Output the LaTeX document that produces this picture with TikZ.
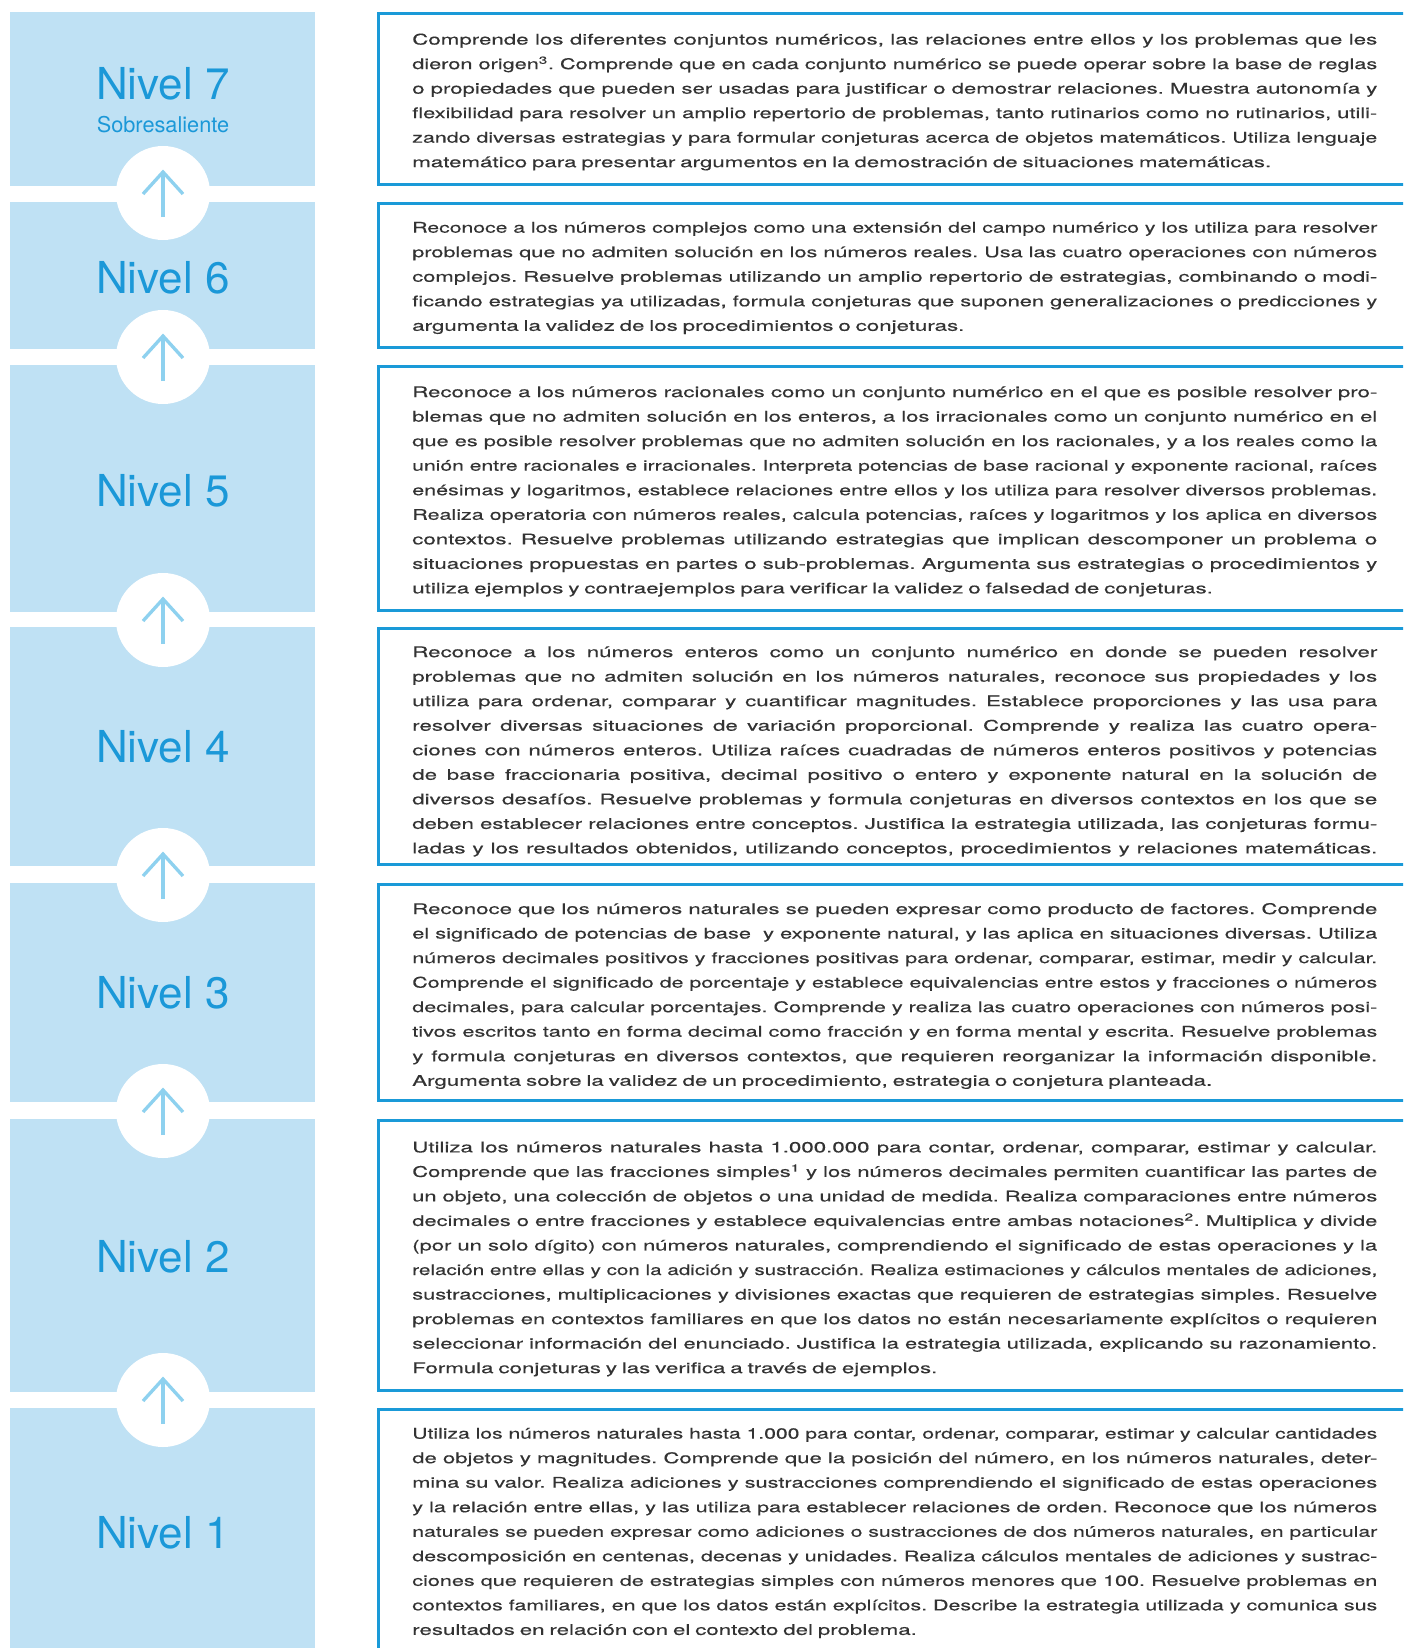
\documentclass[tikz,border=0pt]{standalone}
\usepackage{fontspec}
\usepackage{graphicx}
\usepackage{xcolor}
\setmainfont{TeX Gyre Heros}
\newfontfamily\bodyfont[FakeStretch=1.52,FakeBold=0.4]{TeX Gyre Heros}

\definecolor{lvlfill}{HTML}{BFE1F4}
\definecolor{lvlblue}{HTML}{1B98D8}
\definecolor{boxblue}{HTML}{1A9AD8}
\definecolor{arrblue}{HTML}{8ED1EF}
\definecolor{bodytxt}{HTML}{333333}

\newlength\txtw \setlength\txtw{723.75pt}
\newlength\lnw
% justified line: spread the spaces, or squeeze if too long
\newcommand\jl[1]{{\frenchspacing\spaceskip=\fontdimen2\font plus 1fil\relax
  \settowidth\lnw{#1}\ifdim\lnw>\txtw\resizebox{\txtw}{\height}{#1}\else\makebox[\txtw][s]{#1}\fi}}

\begin{document}
\begin{tikzpicture}[x=0.75pt,y=0.75pt,yscale=-1,xscale=1,
  lvlbox/.style={fill=lvlfill,draw=none},
  descbox/.style={draw=boxblue,line width=2.25pt},
  upcirc/.style={circle,fill=white,draw=none,minimum size=70.5pt,inner sep=0pt},
  uparr/.style={draw=arrblue,line width=2.5pt},
  lvltxt/.style={text=lvlblue,font=\fontsize{33}{36}\selectfont},
  desctxt/.style={text=bodytxt,text width=\txtw,align=left,font=\bodyfont\frenchspacing\fontsize{11}{18.4}\selectfont}]
	\useasboundingbox (0,0) rectangle (1403,1648);
	\clip (0,0) rectangle (1403,1648);
	
	%Shape: Rectangle [id:lvl7]
	\draw [lvlbox] (10,12) rectangle (315,186);
	%Shape: Rectangle [id:lvl6]
	\draw [lvlbox] (10,202) rectangle (315,349);
	%Shape: Rectangle [id:lvl5]
	\draw [lvlbox] (10,365) rectangle (315,612);
	%Shape: Rectangle [id:lvl4]
	\draw [lvlbox] (10,627) rectangle (315,866);
	%Shape: Rectangle [id:lvl3]
	\draw [lvlbox] (10,883) rectangle (315,1102);
	%Shape: Rectangle [id:lvl2]
	\draw [lvlbox] (10,1119) rectangle (315,1392);
	%Shape: Rectangle [id:lvl1]
	\draw [lvlbox] (10,1408) rectangle (315,1700);
	
	%Shape: Rectangle [id:box7]
	\draw [descbox] (378,13.5) rectangle (1450,184.5);
	%Shape: Rectangle [id:box6]
	\draw [descbox] (378,203.5) rectangle (1450,347.5);
	%Shape: Rectangle [id:box5]
	\draw [descbox] (378,366.5) rectangle (1450,610.5);
	%Shape: Rectangle [id:box4]
	\draw [descbox] (378,628.5) rectangle (1450,864.5);
	%Shape: Rectangle [id:box3]
	\draw [descbox] (378,884.5) rectangle (1450,1100.5);
	%Shape: Rectangle [id:box2]
	\draw [descbox] (378,1120.5) rectangle (1450,1390.5);
	%Shape: Rectangle [id:box1]
	\draw [descbox] (378,1409.5) rectangle (1450,1700);
	
	%Shape: Circle [id:up76]
	\draw (163,193) node [upcirc] (up76) {};
	%Shape: Circle [id:up65]
	\draw (163,357) node [upcirc] (up65) {};
	%Shape: Circle [id:up54]
	\draw (163,620) node [upcirc] (up54) {};
	%Shape: Circle [id:up43]
	\draw (163,875) node [upcirc] (up43) {};
	%Shape: Circle [id:up32]
	\draw (163,1111) node [upcirc] (up32) {};
	%Shape: Circle [id:up21]
	\draw (163,1400) node [upcirc] (up21) {};
	
	%Straight Lines [id:arr76]
	\draw [uparr] ([yshift=18pt]up76.center) -- ([yshift=-15.75pt]up76.center) ;
	\draw [uparr] ([xshift=-15pt,yshift=0.75pt]up76.center) -- ([yshift=-15.75pt]up76.center) -- ([xshift=15pt,yshift=0.75pt]up76.center) ;
	%Straight Lines [id:arr65]
	\draw [uparr] ([yshift=18pt]up65.center) -- ([yshift=-15.75pt]up65.center) ;
	\draw [uparr] ([xshift=-15pt,yshift=0.75pt]up65.center) -- ([yshift=-15.75pt]up65.center) -- ([xshift=15pt,yshift=0.75pt]up65.center) ;
	%Straight Lines [id:arr54]
	\draw [uparr] ([yshift=18pt]up54.center) -- ([yshift=-15.75pt]up54.center) ;
	\draw [uparr] ([xshift=-15pt,yshift=0.75pt]up54.center) -- ([yshift=-15.75pt]up54.center) -- ([xshift=15pt,yshift=0.75pt]up54.center) ;
	%Straight Lines [id:arr43]
	\draw [uparr] ([yshift=18pt]up43.center) -- ([yshift=-15.75pt]up43.center) ;
	\draw [uparr] ([xshift=-15pt,yshift=0.75pt]up43.center) -- ([yshift=-15.75pt]up43.center) -- ([xshift=15pt,yshift=0.75pt]up43.center) ;
	%Straight Lines [id:arr32]
	\draw [uparr] ([yshift=18pt]up32.center) -- ([yshift=-15.75pt]up32.center) ;
	\draw [uparr] ([xshift=-15pt,yshift=0.75pt]up32.center) -- ([yshift=-15.75pt]up32.center) -- ([xshift=15pt,yshift=0.75pt]up32.center) ;
	%Straight Lines [id:arr21]
	\draw [uparr] ([yshift=18pt]up21.center) -- ([yshift=-15.75pt]up21.center) ;
	\draw [uparr] ([xshift=-15pt,yshift=0.75pt]up21.center) -- ([yshift=-15.75pt]up21.center) -- ([xshift=15pt,yshift=0.75pt]up21.center) ;
	
	% Text Node
	\draw (163,100) node [anchor=base][inner sep=0pt] [lvltxt] (n7) {Nivel 7};
	% Text Node
	\draw (163,133) node [anchor=base][inner sep=0pt] [text=lvlblue,font=\fontsize{16.3}{18}\selectfont] (sub7) {Sobresaliente};
	% Text Node
	\draw (163,293) node [anchor=base][inner sep=0pt] [lvltxt] (n6) {Nivel 6};
	% Text Node
	\draw (163,506) node [anchor=base][inner sep=0pt] [lvltxt] (n5) {Nivel 5};
	% Text Node
	\draw (163,762) node [anchor=base][inner sep=0pt] [lvltxt] (n4) {Nivel 4};
	% Text Node
	\draw (163,1008) node [anchor=base][inner sep=0pt] [lvltxt] (n3) {Nivel 3};
	% Text Node
	\draw (163,1272) node [anchor=base][inner sep=0pt] [lvltxt] (n2) {Nivel 2};
	% Text Node
	\draw (163,1548) node [anchor=base][inner sep=0pt] [lvltxt] (n1) {Nivel 1};
	
	% Text Node
	\draw (412,102) node [anchor=west][inner sep=0pt] [desctxt] (d7) {%
\jl{Comprende los diferentes conjuntos numéricos, las relaciones entre ellos y los problemas que les}\\
\jl{dieron origen\textsuperscript{3}. Comprende que en cada conjunto numérico se puede operar sobre la base de reglas}\\
\jl{o propiedades que pueden ser usadas para justificar o demostrar relaciones. Muestra autonomía y}\\
\jl{flexibilidad para resolver un amplio repertorio de problemas, tanto rutinarios como no rutinarios, utili-}\\
\jl{zando diversas estrategias y para formular conjeturas acerca de objetos matemáticos. Utiliza lenguaje}\\
matemático para presentar argumentos en la demostración de situaciones matemáticas.};
	% Text Node
	\draw (412,278) node [anchor=west][inner sep=0pt] [desctxt] (d6) {%
\jl{Reconoce a los números complejos como una extensión del campo numérico y los utiliza para resolver}\\
\jl{problemas que no admiten solución en los números reales. Usa las cuatro operaciones con números}\\
\jl{complejos. Resuelve problemas utilizando un amplio repertorio de estrategias, combinando o modi-}\\
\jl{ficando estrategias ya utilizadas, formula conjeturas que suponen generalizaciones o predicciones y}\\
argumenta la validez de los procedimientos o conjeturas.};
	% Text Node
	\draw (412,491.5) node [anchor=west][inner sep=0pt] [desctxt] (d5) {%
\jl{Reconoce a los números racionales como un conjunto numérico en el que es posible resolver pro-}\\
\jl{blemas que no admiten solución en los enteros, a los irracionales como un conjunto numérico en el}\\
\jl{que es posible resolver problemas que no admiten solución en los racionales, y a los reales como la}\\
\jl{unión entre racionales e irracionales. Interpreta potencias de base racional y exponente racional, raíces}\\
\jl{enésimas y logaritmos, establece relaciones entre ellos y los utiliza para resolver diversos problemas.}\\
\jl{Realiza operatoria con números reales, calcula potencias, raíces y logaritmos y los aplica en diversos}\\
\jl{contextos. Resuelve problemas utilizando estrategias que implican descomponer un problema o}\\
\jl{situaciones propuestas en partes o sub-problemas. Argumenta sus estrategias o procedimientos y}\\
utiliza ejemplos y contraejemplos para verificar la validez o falsedad de conjeturas.};
	% Text Node
	\draw (412,751.5) node [anchor=west][inner sep=0pt] [desctxt] (d4) {%
\jl{Reconoce a los números enteros como un conjunto numérico en donde se pueden resolver}\\
\jl{problemas que no admiten solución en los números naturales, reconoce sus propiedades y los}\\
\jl{utiliza para ordenar, comparar y cuantificar magnitudes. Establece proporciones y las usa para}\\
\jl{resolver diversas situaciones de variación proporcional. Comprende y realiza las cuatro opera-}\\
\jl{ciones con números enteros. Utiliza raíces cuadradas de números enteros positivos y potencias}\\
\jl{de base fraccionaria positiva, decimal positivo o entero y exponente natural en la solución de}\\
\jl{diversos desafíos. Resuelve problemas y formula conjeturas en diversos contextos en los que se}\\
\jl{deben establecer relaciones entre conceptos. Justifica la estrategia utilizada, las conjeturas formu-}\\
\jl{ladas y los resultados obtenidos, utilizando conceptos, procedimientos y relaciones matemáticas.}};
	% Text Node
	\draw (412,996) node [anchor=west][inner sep=0pt] [desctxt] (d3) {%
\jl{Reconoce que los números naturales se pueden expresar como producto de factores. Comprende}\\
\jl{el significado de potencias de base\ \ y exponente natural, y las aplica en situaciones diversas. Utiliza}\\
\jl{números decimales positivos y fracciones positivas para ordenar, comparar, estimar, medir y calcular.}\\
\jl{Comprende el significado de porcentaje y establece equivalencias entre estos y fracciones o números}\\
\jl{decimales, para calcular porcentajes. Comprende y realiza las cuatro operaciones con números posi-}\\
\jl{tivos escritos tanto en forma decimal como fracción y en forma mental y escrita. Resuelve problemas}\\
\jl{y formula conjeturas en diversos contextos, que requieren reorganizar la información disponible.}\\
Argumenta sobre la validez de un procedimiento, estrategia o conjetura planteada.};
	% Text Node
	\draw (412,1259) node [anchor=west][inner sep=0pt] [desctxt] (d2) {%
\jl{Utiliza los números naturales hasta 1.000.000 para contar, ordenar, comparar, estimar y calcular.}\\
\jl{Comprende que las fracciones simples\textsuperscript{1} y los números decimales permiten cuantificar las partes de}\\
\jl{un objeto, una colección de objetos o una unidad de medida. Realiza comparaciones entre números}\\
\jl{decimales o entre fracciones y establece equivalencias entre ambas notaciones\textsuperscript{2}. Multiplica y divide}\\
\jl{(por un solo dígito) con números naturales, comprendiendo el significado de estas operaciones y la}\\
\jl{relación entre ellas y con la adición y sustracción. Realiza estimaciones y cálculos mentales de adiciones,}\\
\jl{sustracciones, multiplicaciones y divisiones exactas que requieren de estrategias simples. Resuelve}\\
\jl{problemas en contextos familiares en que los datos no están necesariamente explícitos o requieren}\\
\jl{seleccionar información del enunciado. Justifica la estrategia utilizada, explicando su razonamiento.}\\
Formula conjeturas y las verifica a través de ejemplos.};
	% Text Node
	\draw (412,1533) node [anchor=west][inner sep=0pt] [desctxt] (d1) {%
\jl{Utiliza los números naturales hasta 1.000 para contar, ordenar, comparar, estimar y calcular cantidades}\\
\jl{de objetos y magnitudes. Comprende que la posición del número, en los números naturales, deter-}\\
\jl{mina su valor. Realiza adiciones y sustracciones comprendiendo el significado de estas operaciones}\\
\jl{y la relación entre ellas, y las utiliza para establecer relaciones de orden. Reconoce que los números}\\
\jl{naturales se pueden expresar como adiciones o sustracciones de dos números naturales, en particular}\\
\jl{descomposición en centenas, decenas y unidades. Realiza cálculos mentales de adiciones y sustrac-}\\
\jl{ciones que requieren de estrategias simples con números menores que 100. Resuelve problemas en}\\
\jl{contextos familiares, en que los datos están explícitos. Describe la estrategia utilizada y comunica sus}\\
resultados en relación con el contexto del problema.};
\end{tikzpicture}
\end{document}
